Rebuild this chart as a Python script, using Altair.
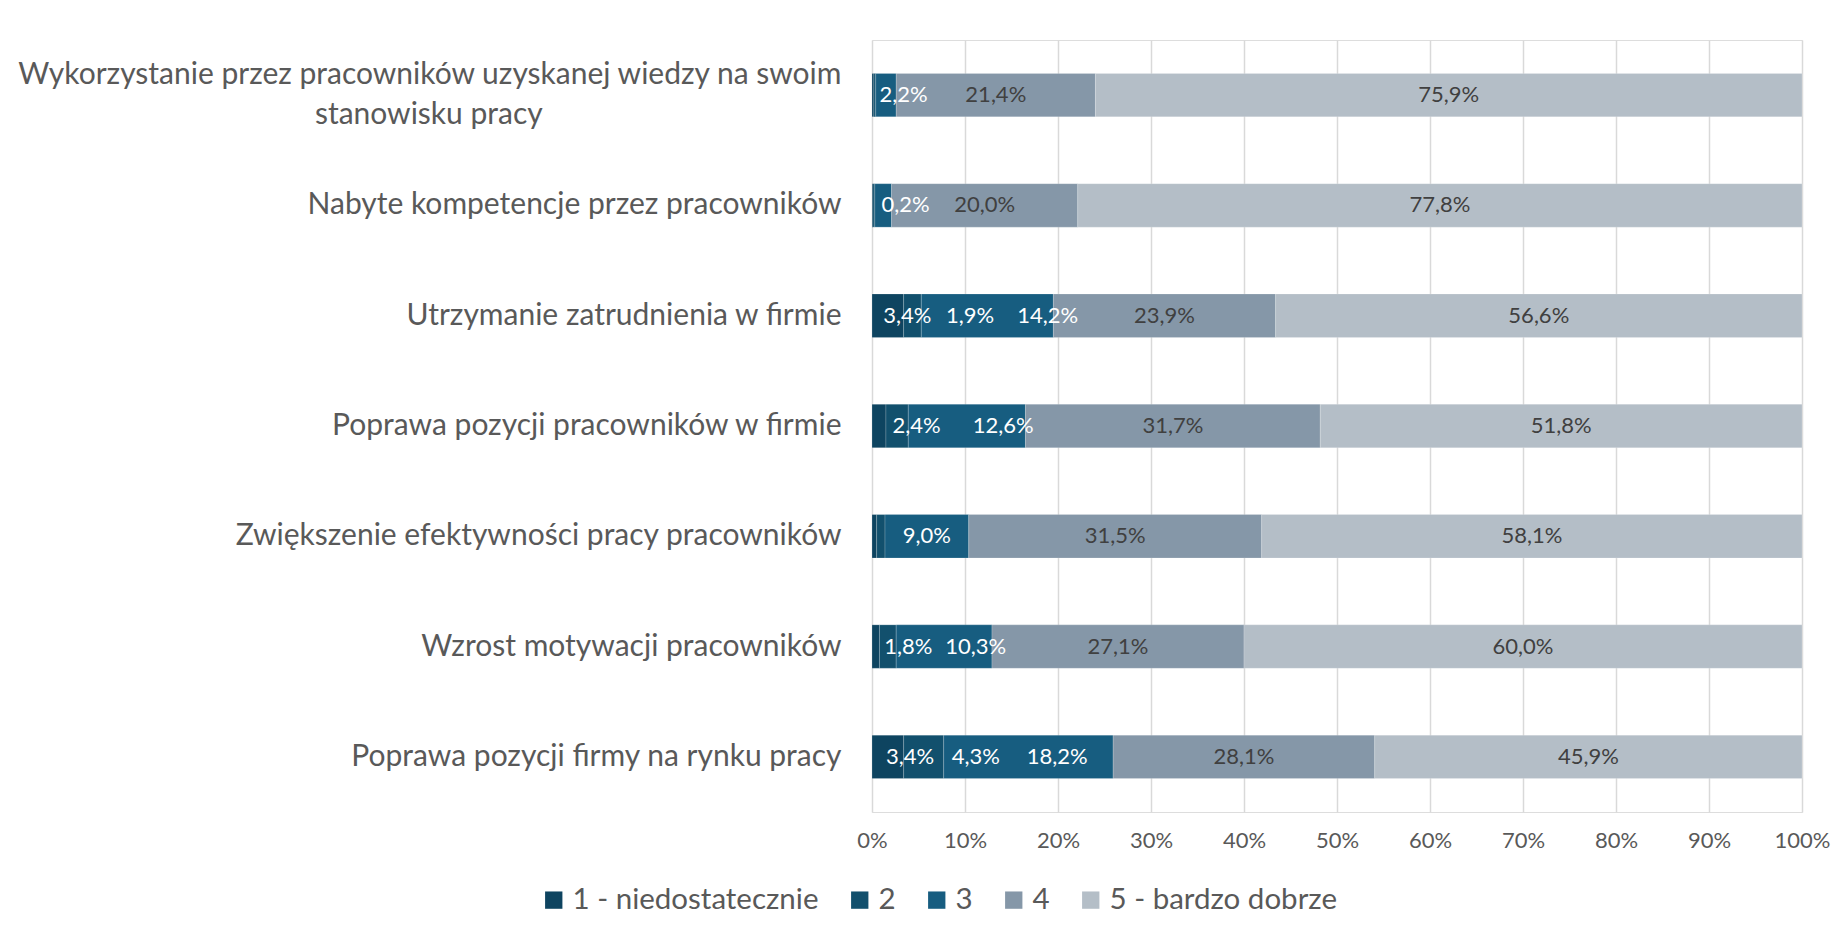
import json
import altair as alt
import pandas as pd

# ---------------- data ----------------
categories = [
    "Wykorzystanie przez pracowników uzyskanej wiedzy na swoim stanowisku pracy",
    "Nabyte kompetencje przez pracowników",
    "Utrzymanie zatrudnienia w firmie",
    "Poprawa pozycji pracowników w firmie",
    "Zwiększenie efektywności pracy pracowników",
    "Wzrost motywacji pracowników",
    "Poprawa pozycji firmy na rynku pracy",
]
series_names = ["1 - niedostatecznie", "2", "3", "4", "5 - bardzo dobrze"]

s1 = [0.2, 0.1, 3.4, 1.5, 0.5, 0.8, 3.4]
s2 = [0.2, 0.2, 1.9, 2.4, 0.9, 1.8, 4.3]
s3 = [2.2, 1.8, 14.2, 12.6, 9.0, 10.3, 18.2]
s4 = [21.4, 20.0, 23.9, 31.7, 31.5, 27.1, 28.1]
s5 = [75.9, 77.8, 56.6, 51.8, 58.1, 60.0, 45.9]

# which data labels are visible in the original
show1 = [False, False, True, False, False, False, True]
show2 = [False, True, True, True, False, True, True]
show3 = [True, False, True, True, True, True, True]
show4 = [True] * 7
show5 = [True] * 7

tick_values = [0, 10, 20, 30, 40, 50, 60, 70, 80, 90, 100]

# ---------------- styling ----------------
colors = ["#0e4460", "#12506d", "#175d80", "#8597a8", "#b4bec7"]
FONT = "Lato"
TEXT = "#595959"

# labels that were dragged sideways in the original (row, series) -> shift in % points
label_nudge = {
    (0, 3): 1.9, (1, 2): 3.4, (2, 1): 2.1, (2, 2): 6.2, (2, 3): 6.5,
    (3, 2): 2.1, (3, 3): 3.9, (5, 2): 2.2, (5, 3): 3.4,
    (6, 1): 2.4, (6, 2): 5.6, (6, 3): 3.1,
}

series = [s1, s2, s3, s4, s5]
shows = [show1, show2, show3, show4, show5]


def fmt(v):
    return f"{v:.1f}".replace(".", ",") + "%"


rows = []
for i, cat in enumerate(categories):
    vals = [s[i] for s in series]
    total = sum(vals)
    cum = 0.0
    for j, v in enumerate(vals):
        start = cum / total * 100
        cum += v
        end = cum / total * 100
        rows.append(dict(
            cat=cat, series=series_names[j], order=j, value=v,
            start=start, end=end,
            mid=(start + end) / 2 + label_nudge.get((i, j + 1), 0.0),
            label=fmt(v) if shows[j][i] else "",
            dark=j < 3,
        ))
df = pd.DataFrame(rows)

# second line of the wrapped label is centred under the first one in the original
NBSP = "\u00a0"
line1 = "Wykorzystanie przez pracowników uzyskanej wiedzy na swoim"
line2 = "stanowisku pracy" + NBSP * 39 + "\u200b"
is_first = f"datum.value === {json.dumps(categories[0])}"
label_expr = f"{is_first} ? {json.dumps([line1, line2])} : datum.value"

y_enc = alt.Y(
    "cat:N", sort=categories,
    scale=alt.Scale(paddingInner=0.606, paddingOuter=0.303),
    axis=alt.Axis(title=None, domain=False, ticks=False, grid=False,
                  labelFontSize=30, labelColor=TEXT, labelFont=FONT,
                  labelPadding=31, labelLimit=2000, labelLineHeight=40,
                  labelOffset=alt.condition(is_first, alt.value(-20), alt.value(0)),
                  labelExpr=label_expr),
)

bars = alt.Chart(df).mark_bar(stroke="#ffffff", strokeWidth=0.6, strokeOpacity=0.3).encode(
    x=alt.X("start:Q", scale=alt.Scale(domain=[0, 100], nice=False),
            axis=alt.Axis(values=tick_values, labelExpr="datum.value + '%'",
                          grid=True, gridColor="#d9d9d9", gridWidth=1.5,
                          domain=False, ticks=False, labelFontSize=22,
                          labelColor=TEXT, labelFont=FONT, labelPadding=18,
                          labelFlush=False, title=None)),
    x2="end:Q",
    y=y_enc,
    color=alt.Color("series:N",
                    scale=alt.Scale(domain=series_names, range=colors),
                    legend=alt.Legend(orient="none", legendX=-333, legendY=845,
                                      direction="horizontal", title=None,
                                      symbolType="square", symbolSize=300,
                                      symbolStrokeWidth=0, labelFontSize=29.5,
                                      labelColor=TEXT, labelFont=FONT,
                                      columnPadding=26, labelOffset=4,
                                      labelLimit=1000, padding=0)),
    order=alt.Order("order:Q"),
)

texts = alt.Chart(df).transform_filter("datum.label != ''").mark_text(
    fontSize=22, font=FONT, baseline="middle", align="center"
).encode(
    x="mid:Q",
    y=alt.Y("cat:N", sort=categories),
    text="label:N",
    color=alt.condition("datum.dark", alt.value("#ffffff"), alt.value("#404040")),
)

chart = alt.layer(bars, texts).properties(
    width=930, height=772,
    autosize=alt.AutoSizeParams(type="none"),
    padding={"left": 864, "top": 32, "right": 30, "bottom": 110},
).configure_view(stroke=None).configure(background="white")

chart.save("out.html", embed_options={"renderer": "svg", "actions": False})
